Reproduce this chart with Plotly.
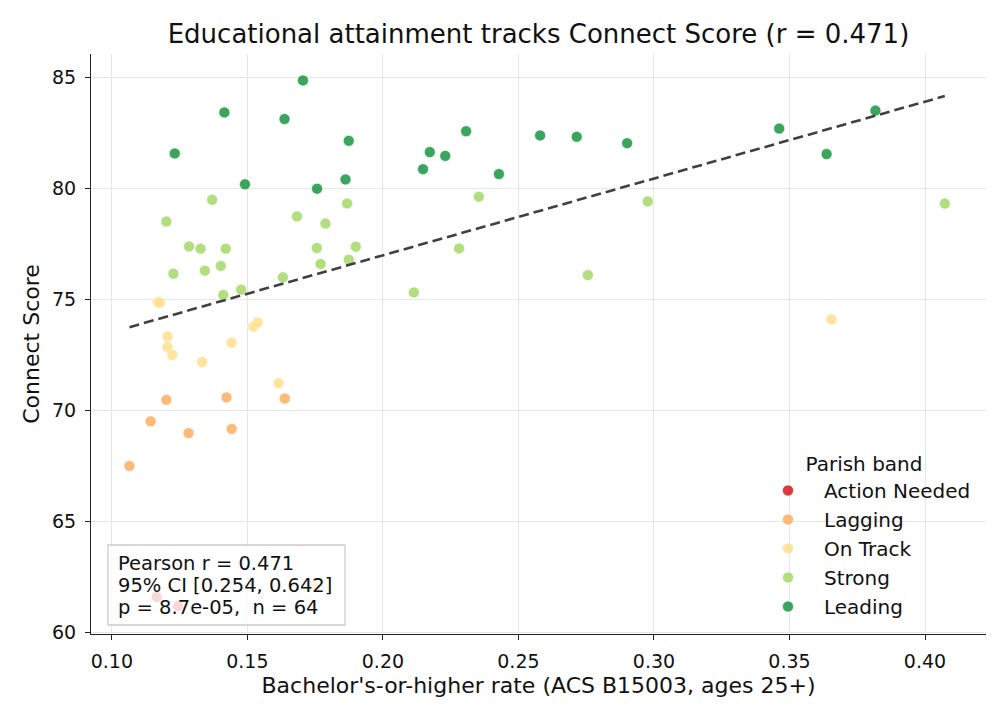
import numpy as np
import plotly.graph_objects as go

bands = ["Action Needed", "Lagging", "On Track", "Strong", "Leading"]
band_colors = ["#d7191c", "#fdae61", "#fee08b", "#a6d96a", "#1a9641"]

action_x = [0.1166, 0.1244]
action_y = [61.58, 61.17]

lagging_x = [0.1201, 0.1423, 0.1638, 0.1143, 0.1283, 0.1442, 0.1065, 0.1747]
lagging_y = [70.46, 70.57, 70.52, 69.49, 68.96, 69.15, 67.48, 62.04]

ontrack_x = [0.1170, 0.1177, 0.1205, 0.1205, 0.1223, 0.1333, 0.1442, 0.1522, 0.1538, 0.1615, 0.3655]
ontrack_y = [74.86, 74.84, 73.31, 72.84, 72.48, 72.16, 73.03, 73.76, 73.94, 71.21, 74.08]

strong_x = [0.1370, 0.1201, 0.1683, 0.1788, 0.1868, 0.1285, 0.1327, 0.1420, 0.1227, 0.1343,
            0.1402, 0.1756, 0.1900, 0.1770, 0.1874, 0.1631, 0.1411, 0.1477, 0.2354, 0.2977,
            0.4073, 0.2281, 0.2756, 0.2114]
strong_y = [79.47, 78.49, 78.72, 78.40, 79.31, 77.37, 77.27, 77.27, 76.14, 76.28,
            76.49, 77.30, 77.36, 76.58, 76.77, 75.98, 75.18, 75.42, 79.61, 79.40,
            79.30, 77.28, 76.08, 75.30]

leading_x = [0.1705, 0.1415, 0.1637, 0.1874, 0.1232, 0.1491, 0.1757, 0.1862, 0.2307, 0.2173,
             0.2230, 0.2148, 0.2428, 0.2580, 0.2715, 0.2901, 0.3462, 0.3637, 0.3817]
leading_y = [84.85, 83.41, 83.11, 82.13, 81.56, 80.17, 79.97, 80.39, 82.56, 81.62,
             81.45, 80.85, 80.63, 82.37, 82.31, 82.02, 82.68, 81.53, 83.49]

band_x = [action_x, lagging_x, ontrack_x, strong_x, leading_x]
band_y = [action_y, lagging_y, ontrack_y, strong_y, leading_y]

stats_lines = ["Pearson r = 0.471", "95% CI [0.254, 0.642]", "p = 8.7e-05,\u00a0\u00a0n = 64"]
title_text = "Educational attainment tracks Connect Score (r = 0.471)"

FONT = "DejaVu Sans"

# plot-area pixel geometry helpers (layout only)
L, R, T, B = 91, 986, 54, 634
def px_x(p):
    return (p - L) / (R - L)
def px_y(p):
    return (B - p) / (B - T)

fig = go.Figure()

for name, col, xs, ys in zip(bands, band_colors, band_x, band_y):
    fig.add_trace(go.Scatter(
        x=xs, y=ys, mode="markers", name=name, legendgroup=name,
        marker=dict(color=col, size=11, opacity=0.85,
                    line=dict(color="white", width=0.6)),
    ))

all_x = np.array(sum(band_x, []))
all_y = np.array(sum(band_y, []))
slope, intercept = np.polyfit(all_x, all_y, 1)
fx = np.array([all_x.min(), all_x.max()])
fig.add_trace(go.Scatter(
    x=fx, y=slope * fx + intercept, mode="lines", showlegend=False,
    line=dict(color="#404040", width=2.6, dash="10px,5px"), hoverinfo="skip",
))

# stats box
fig.add_shape(type="rect", xref="paper", yref="paper",
              x0=px_x(108), x1=px_x(345), y0=px_y(625), y1=px_y(545),
              fillcolor="rgba(255,255,255,0.8)", line=dict(color="#cccccc", width=1.3),
              layer="above")
for i, line in enumerate(stats_lines):
    fig.add_annotation(
        text=line, xref="paper", yref="paper", x=px_x(116), y=px_y(563 + 22 * i),
        xanchor="left", yanchor="middle", align="left", showarrow=False,
        font=dict(family=FONT, size=19.5, color="#111"),
    )

axis_common = dict(
    showgrid=True, gridcolor="#e6e6e6", gridwidth=1,
    showline=True, linecolor="#222", linewidth=1.2,
    ticks="outside", ticklen=5, tickcolor="#222", tickwidth=1.2,
    tickfont=dict(family=FONT, size=19, color="#111"),
    zeroline=False, mirror=False,
)

fig.update_layout(
    width=1008, height=720,
    margin=dict(l=L, r=1008 - R, t=T, b=720 - B),
    paper_bgcolor="white", plot_bgcolor="white",
    font=dict(family=FONT, color="#111"),
    title=dict(text=title_text, x=0.5, xref="paper", y=1 - 34 / 720, yref="container",
               xanchor="center", yanchor="middle",
               font=dict(family=FONT, size=26, color="#111")),
    xaxis=dict(range=[0.0923, 0.4225], tickvals=[0.10, 0.15, 0.20, 0.25, 0.30, 0.35, 0.40],
               tickformat=".2f", ticklabelstandoff=5,
               title=dict(text="Bachelor's-or-higher rate (ACS B15003, ages 25+)",
                          font=dict(family=FONT, size=22, color="#111"), standoff=6),
               **axis_common),
    yaxis=dict(range=[59.91, 86.04], tickvals=[60, 65, 70, 75, 80, 85],
               ticklabelstandoff=5,
               title=dict(text="Connect Score",
                          font=dict(family=FONT, size=22, color="#111"), standoff=6),
               **axis_common),
    legend=dict(
        x=px_x(752), y=px_y(626), xanchor="left", yanchor="bottom",
        bgcolor="rgba(0,0,0,0)", borderwidth=0,
        font=dict(family=FONT, size=20, color="#111"),
        title=dict(text="Parish band", side="top center",
                   font=dict(family=FONT, size=20, color="#111")),
        tracegroupgap=0, itemwidth=62,
    ),
)

fig.write_html("out.html")
